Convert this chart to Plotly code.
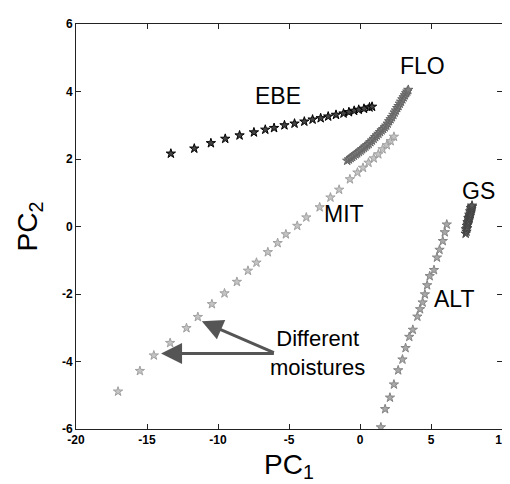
import plotly.graph_objects as go

# ---------------- data ----------------
ebe_x = [-13.32, -11.67, -10.50, -9.49, -8.48, -7.47, -6.67, -6.05, -5.32, -4.61,
         -3.92, -3.34, -2.77, -2.24, -1.69, -1.16, -0.78, -0.41, -0.09, 0.28, 0.67, 0.85]
ebe_y = [2.16, 2.31, 2.47, 2.60, 2.70, 2.79, 2.87, 2.92, 3.00, 3.05,
         3.11, 3.17, 3.21, 3.26, 3.31, 3.35, 3.39, 3.43, 3.46, 3.49, 3.53, 3.55]

flo_x = [-0.90, -0.78, -0.66, -0.55, -0.43, -0.31, -0.20, -0.08, 0.04, 0.15, 0.27, 0.38,
         0.50, 0.61, 0.73, 0.84, 0.96, 1.07, 1.18, 1.30, 1.41, 1.52, 1.63, 1.74, 1.85,
         1.95, 2.05, 2.15, 2.25, 2.35, 2.44, 2.53, 2.62, 2.71, 2.80, 2.89, 2.98, 3.07,
         3.16, 3.25, 3.33, 3.40]
flo_y = [1.95, 1.99, 2.03, 2.06, 2.10, 2.14, 2.17, 2.21, 2.25, 2.29, 2.33, 2.37,
         2.41, 2.45, 2.50, 2.55, 2.60, 2.65, 2.70, 2.75, 2.80, 2.85, 2.89, 2.94, 2.99,
         3.05, 3.12, 3.18, 3.24, 3.31, 3.38, 3.44, 3.51, 3.57, 3.64, 3.70, 3.77, 3.83,
         3.89, 3.95, 4.00, 4.05]

mit_x = [-17.04, -15.50, -14.52, -13.37, -12.22, -11.42, -10.43, -9.54, -8.67, -7.89,
         -7.29, -6.49, -5.80, -5.22, -4.42, -3.78, -2.84, -2.08, -1.47, -0.71, -0.18,
         0.21, 0.60, 0.97, 1.29, 1.59, 1.89, 2.16, 2.39]
mit_y = [-4.89, -4.28, -3.82, -3.45, -3.01, -2.68, -2.30, -1.98, -1.64, -1.31,
         -1.07, -0.76, -0.49, -0.23, 0.02, 0.27, 0.57, 0.86, 1.09, 1.40, 1.60,
         1.74, 1.89, 2.02, 2.14, 2.29, 2.41, 2.53, 2.66]

alt_x = [6.11, 5.97, 5.83, 5.60, 5.42, 5.21, 4.91, 4.73, 4.57, 4.41, 4.23, 4.04,
         3.72, 3.47, 3.21, 2.99, 2.69, 2.39, 2.11, 1.77, 1.47]
alt_y = [0.06, -0.17, -0.43, -0.69, -0.92, -1.29, -1.47, -1.74, -2.01, -2.25, -2.45, -2.67,
         -3.06, -3.27, -3.60, -3.94, -4.26, -4.68, -5.07, -5.41, -5.95]

gs_x = [7.44, 7.50, 7.46, 7.55, 7.52, 7.58, 7.62, 7.57, 7.65, 7.68, 7.63, 7.71,
        7.74, 7.70, 7.78, 7.80, 7.76, 7.83, 7.85, 7.82, 7.88, 7.89]
gs_y = [-0.21, -0.15, -0.08, -0.05, 0.02, 0.06, 0.10, 0.13, 0.18, 0.22, 0.25, 0.28,
        0.32, 0.35, 0.38, 0.42, 0.45, 0.48, 0.52, 0.55, 0.58, 0.62]

labels = ["EBE", "FLO", "MIT", "GS", "ALT"]
label_x = [-5.75, 4.43, -1.16, 8.36, 6.63]
label_y = [3.88, 4.76, 0.37, 1.04, -2.15]

note_text = "Different<br>moistures"
note_x, note_y = -3.0, -3.76
arrow_tail = (-5.96, -3.76)
arrow_tips_x = [-14.01, -11.14]
arrow_tips_y = [-3.76, -2.81]

x_ticks = [-20, -15, -10, -5, 0, 5, 10]
y_ticks = [-6, -4, -2, 0, 2, 4, 6]

# ---------------- figure ----------------
FONT = "Arial, Liberation Sans, Helvetica, sans-serif"
fig = go.Figure()

def add_series(xs, ys, fill, edge, name):
    fig.add_trace(go.Scatter(
        x=xs, y=ys, mode="markers", name=name,
        marker=dict(symbol="star", size=7, color=fill, line=dict(color=edge, width=1)),
        showlegend=False))

add_series(mit_x, mit_y, "#c4c4c4", "#a0a0a0", "MIT")
add_series(alt_x, alt_y, "#a8a8a8", "#858585", "ALT")
add_series(flo_x, flo_y, "#808080", "#666666", "FLO")
add_series(gs_x, gs_y, "#5a5a5a", "#444444", "GS")
add_series(ebe_x, ebe_y, "#444444", "#000000", "EBE")

for t, lx, ly in zip(labels, label_x, label_y):
    fig.add_annotation(x=lx, y=ly, text=t, showarrow=False,
                       font=dict(family=FONT, size=23, color="black"))

fig.add_annotation(x=note_x, y=note_y, text=note_text, showarrow=False,
                   font=dict(family=FONT, size=22, color="black"))

for tx, ty in zip(arrow_tips_x, arrow_tips_y):
    fig.add_annotation(x=tx, y=ty, ax=arrow_tail[0], ay=arrow_tail[1],
                       xref="x", yref="y", axref="x", ayref="y", text="",
                       showarrow=True, arrowhead=2, arrowsize=1.4, arrowwidth=3,
                       arrowcolor="#555555")

axis_common = dict(showgrid=False, zeroline=False, showline=True, linecolor="#222222",
                   linewidth=1, mirror="allticks", ticks="inside", ticklen=5,
                   tickcolor="#222222", ticklabeloverflow="allow",
                   tickfont=dict(family=FONT, size=12, color="black", weight="bold"))

fig.update_xaxes(range=[-20, 10], tickvals=x_ticks, ticktext=[str(v) for v in x_ticks],
                 title=dict(text="PC<sub>1</sub>", font=dict(family=FONT, size=28, color="black"),
                            standoff=7),
                 **axis_common)
fig.update_yaxes(range=[-6, 6], tickvals=y_ticks, ticktext=[str(v) for v in y_ticks],
                 title=dict(text="PC<sub>2</sub>", font=dict(family=FONT, size=28, color="black"),
                            standoff=16),
                 **axis_common)

fig.update_layout(width=510, height=484, margin=dict(l=68, r=9, t=12, b=63),
                  plot_bgcolor="white", paper_bgcolor="white")

fig.write_html("out.html")
